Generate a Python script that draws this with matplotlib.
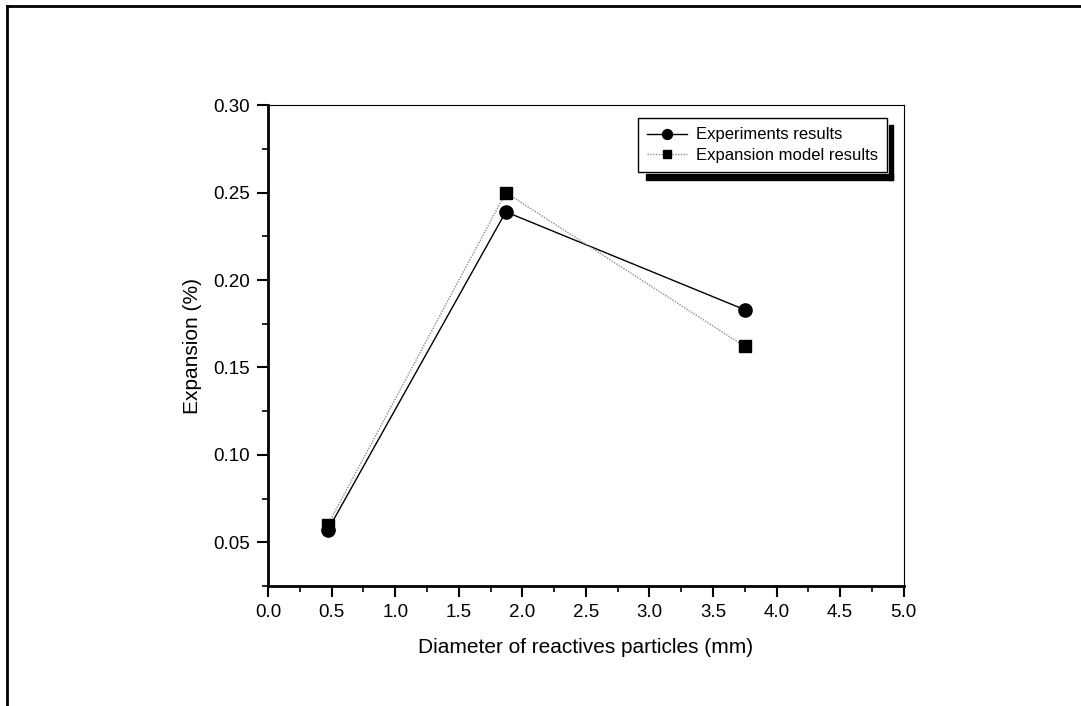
import matplotlib
matplotlib.use("Agg")
import matplotlib.pyplot as plt
from matplotlib.patches import Rectangle
from matplotlib.lines import Line2D
from matplotlib.ticker import MultipleLocator

plt.rcParams['font.family'] = ['Liberation Sans', 'DejaVu Sans']

# data
diameter = [0.47, 1.87, 3.75]
exp_results = [0.057, 0.239, 0.183]
model_results = [0.060, 0.250, 0.162]

fig = plt.figure(figsize=(10.81, 7.06), dpi=100)
ax = fig.add_axes([0.248, 0.170, 0.588, 0.681])

ax.plot(diameter, exp_results, color='black', lw=1.0, marker='o', ms=9.5,
        label='Experiments results')
ax.plot(diameter, model_results, color='#8c8c8c', lw=1.0, ls=(0, (1, 1)),
        marker='s', ms=8.5, mfc='black', mec='black', label='Expansion model results')

ax.set_xlim(0, 5)
ax.set_ylim(0.025, 0.30)
ax.xaxis.set_major_locator(MultipleLocator(0.5))
ax.xaxis.set_minor_locator(MultipleLocator(0.25))
ax.yaxis.set_major_locator(MultipleLocator(0.05))
ax.yaxis.set_minor_locator(MultipleLocator(0.025))
ax.set_yticks([0.05, 0.10, 0.15, 0.20, 0.25, 0.30])
ax.yaxis.set_major_formatter(plt.FormatStrFormatter('%.2f'))
ax.xaxis.set_major_formatter(plt.FormatStrFormatter('%.1f'))

ax.tick_params(which='major', direction='out', length=8, width=1.5, labelsize=13.5, pad=5)
ax.tick_params(which='minor', direction='out', length=4, width=1.2)
ax.spines['left'].set_linewidth(2)
ax.spines['bottom'].set_linewidth(2)
ax.spines['top'].set_linewidth(0.8)
ax.spines['right'].set_linewidth(0.8)

ax.set_xlabel('Diameter of reactives particles (mm)', fontsize=15, labelpad=12)
ax.set_ylabel('Expansion (%)', fontsize=15, labelpad=8)

leg = ax.legend(loc='upper left', bbox_to_anchor=(0.582, 0.973), fontsize=12,
                frameon=True, fancybox=False, edgecolor='black', framealpha=1,
                handlelength=2.4, handletextpad=0.5, borderpad=0.55,
                labelspacing=0.35, borderaxespad=0, markerscale=0.75)
leg.get_frame().set_linewidth(1.0)

# black shadow of the legend box, drawn in display pixels
fig.canvas.draw()
bb = leg.get_window_extent()
fig.patches.append(Rectangle((bb.x1 + 2, bb.y0 - 8), 4.5, bb.height + 1,
                             transform=None, color='black', zorder=0))
fig.patches.append(Rectangle((bb.x0 + 8, bb.y0 - 8), bb.width - 1.5, 6,
                             transform=None, color='black', zorder=0))

# outer frame (top and left edges only)
fig.add_artist(Line2D([0.0065, 1], [0.991, 0.991], transform=fig.transFigure,
                      color='black', lw=2))
fig.add_artist(Line2D([0.0065, 0.0065], [0, 0.991], transform=fig.transFigure,
                      color='black', lw=2))

fig.savefig('out.png', dpi=100)
